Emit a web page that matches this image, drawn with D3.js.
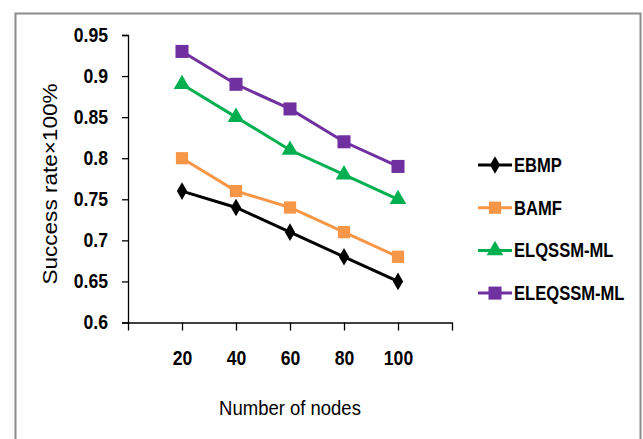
<!DOCTYPE html>
<html>
<head>
<meta charset="utf-8">
<script src="https://cdn.jsdelivr.net/npm/d3@7"></script>
<style>
  body { margin: 0; background: #fff; }
  text { font-family: "Liberation Sans", Arial, sans-serif; fill: #000; }
  .tick text { font-weight: bold; }
  .axis path, .axis line { stroke: #000; stroke-width: 1.3; }
</style>
</head>
<body>
<svg id="chart" width="643" height="439"></svg>
<script>
// ---------- data ----------
var nodes = [20, 40, 60, 80, 100];
var seriesNames = ["EBMP", "BAMF", "ELQSSM-ML", "ELEQSSM-ML"];
var ebmp = [0.76, 0.74, 0.71, 0.68, 0.65];
var bamf = [0.80, 0.76, 0.74, 0.71, 0.68];
var elqssm = [0.89, 0.85, 0.81, 0.78, 0.75];
var eleqssm = [0.93, 0.89, 0.86, 0.82, 0.79];
var yTicks = [0.6, 0.65, 0.7, 0.75, 0.8, 0.85, 0.9, 0.95];

var colors = ["#000000", "#F79646", "#00B050", "#7030A0"];
var symbols = [d3.symbolDiamond, d3.symbolSquare, d3.symbolTriangle, d3.symbolSquare];
var symSize = [90, 150, 120, 170];
var allSeries = [ebmp, bamf, elqssm, eleqssm];

var svg = d3.select("#chart");

// narrow the glyphs a bit (the original uses a condensed font)
function squeeze(sel, f) {
  sel.each(function() {
    var w = this.getComputedTextLength();
    if (w > 0) d3.select(this).attr("textLength", w * f).attr("lengthAdjust", "spacingAndGlyphs");
  });
}

// outer frame
svg.append("rect")
  .attr("x", 15.5).attr("y", 13.5)
  .attr("width", 625).attr("height", 440)
  .attr("fill", "none").attr("stroke", "#8c8c8c").attr("stroke-width", 2);

var x = d3.scaleLinear().domain([0, 120]).range([128, 452]);
var y = d3.scaleLinear().domain([0.6, 0.95]).range([322.5, 35]);

// y axis
var yAxis = svg.append("g")
  .attr("class", "axis")
  .attr("transform", "translate(128,0)")
  .call(d3.axisLeft(y).tickValues(yTicks).tickSize(6).tickPadding(14)
    .tickFormat(function(d) { return d3.format("")(+d.toFixed(2)); }));
yAxis.selectAll(".tick text").style("font-size", "20px");
squeeze(yAxis.selectAll(".tick text"), 0.88);

// x axis (ticks at 0 and 120 have no label)
var xAxis = svg.append("g")
  .attr("class", "axis")
  .attr("transform", "translate(0,322.5)")
  .call(d3.axisBottom(x).tickValues([0].concat(nodes).concat([120])).tickSize(8).tickSizeOuter(0).tickPadding(20)
    .tickFormat(function(d) { return nodes.indexOf(d) >= 0 ? d : ""; }));
xAxis.selectAll(".tick text").style("font-size", "20px");
squeeze(xAxis.selectAll(".tick text"), 0.88);

// axis titles
var xTitle = svg.append("text")
  .attr("x", 290).attr("y", 415)
  .attr("text-anchor", "middle")
  .style("font-size", "21px")
  .text("Number of nodes");
squeeze(xTitle, 0.88);

svg.append("text")
  .attr("transform", "translate(57,184) rotate(-90)")
  .attr("text-anchor", "middle")
  .style("font-size", "20.5px")
  .attr("textLength", 201)
  .attr("lengthAdjust", "spacingAndGlyphs")
  .text("Success rate×100%");

// lines + markers
var line = d3.line()
  .x(function(d, i) { return x(nodes[i]); })
  .y(function(d) { return y(d); });

allSeries.forEach(function(s, k) {
  var g = svg.append("g").attr("class", "series");
  g.append("path")
    .attr("d", line(s))
    .attr("fill", "none")
    .attr("stroke", colors[k])
    .attr("stroke-width", 3);
  g.selectAll("path.pt")
    .data(s)
    .enter()
    .append("path")
    .attr("class", "pt")
    .attr("transform", function(d, i) { return "translate(" + x(nodes[i]) + "," + y(d) + ")"; })
    .attr("d", d3.symbol().type(symbols[k]).size(symSize[k]))
    .attr("fill", colors[k]);
});

// legend
var legend = svg.append("g").attr("class", "legend");
seriesNames.forEach(function(name, k) {
  var ly = 165 + k * 42.7;
  legend.append("line")
    .attr("x1", 478).attr("x2", 512)
    .attr("y1", ly).attr("y2", ly)
    .attr("stroke", colors[k]).attr("stroke-width", 3);
  legend.append("path")
    .attr("transform", "translate(495," + ly + ")")
    .attr("d", d3.symbol().type(symbols[k]).size(symSize[k]))
    .attr("fill", colors[k]);
  var t = legend.append("text")
    .attr("x", 514).attr("y", ly + 7)
    .style("font-size", "19.5px")
    .style("font-weight", "bold")
    .text(name);
  squeeze(t, 0.85);
});
</script>
</body>
</html>
